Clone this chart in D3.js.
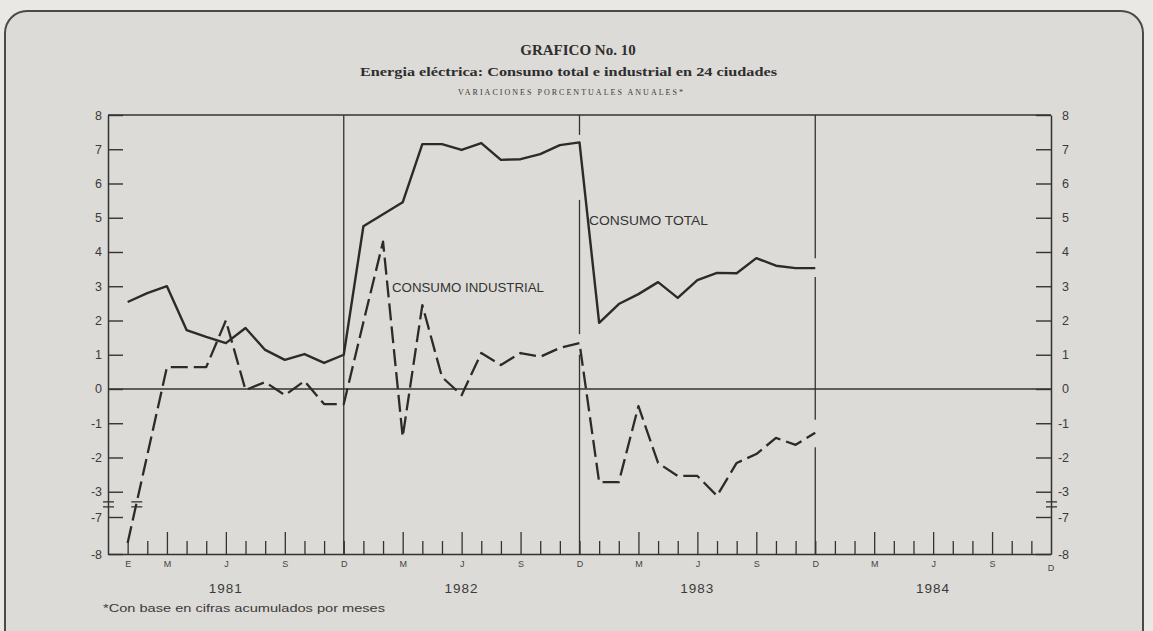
<!DOCTYPE html>
<html>
<head>
<meta charset="utf-8">
<script src="https://cdn.jsdelivr.net/npm/d3@7"></script>
<style>
  body { margin: 0; background: #e9e8e5; }
  svg { display: block; }
</style>
</head>
<body>
<div id="chart"></div>
<script>
// months counted from January 1981 (0) to December 1983 (35)
const total = [2.54, 2.8, 3.0, 1.72, 1.52, 1.34, 1.78, 1.14, 0.85, 1.02, 0.76, 1.0,
  4.75, 5.1, 5.45, 7.15, 7.15, 6.98, 7.18, 6.69, 6.71, 6.86, 7.12, 7.2,
  1.93, 2.48, 2.77, 3.12, 2.66, 3.18, 3.39, 3.38, 3.82, 3.6, 3.53, 3.53]
const industrial = [-7.7, -1.93, 0.64, 0.64, 0.64, 2.0, -0.03, 0.2, -0.18, 0.23, -0.44, -0.44,
  1.95, 4.3, -1.4, 2.45, 0.35, -0.18, 1.05, 0.7, 1.05, 0.94, 1.2, 1.34,
  -2.72, -2.72, -0.5, -2.16, -2.54, -2.54, -3.12, -2.16, -1.9, -1.43, -1.63, -1.28]
const yTicks = [8, 7, 6, 5, 4, 3, 2, 1, 0, -1, -2, -3, -7, -8]
const monthLetters = ['', '', 'M', '', '', 'J', '', '', 'S', '', '', 'D']
const firstLetter = 'E'
const years = ['1981', '1982', '1983', '1984']
// value ranges where the december rules are interrupted
const ruleGaps = [[], [[7.42, 5.52], [1.6, 1.0]], [[3.82, 3.27], [-0.9, -1.7]]]

const width = 1153
const height = 631
const plotLeft = 108, plotRight = 1051, plotTop = 115, plotBottom = 554
const ink = '#333333'
const textInk = '#3a3a3a'
const fontLetter = 'Liberation Sans'

const svg = d3.select('#chart')
  .append('svg')
  .attr('width', width)
  .attr('height', height)

svg.append('rect')
  .attr('x', 5).attr('y', 11)
  .attr('width', 1138).attr('height', 650)
  .attr('rx', 22)
  .attr('fill', '#dddbd7')
  .attr('stroke', '#4a4a4a')
  .attr('stroke-width', 2)

const x = d3.scaleLinear().domain([-1, 47]).range([plotLeft, plotRight])
const y = d3.scaleLinear().domain([-8, -7, -3.3, 8]).range([plotBottom, 517, 502, plotTop])

// titles
svg.append('text')
  .attr('x', 578).attr('y', 55)
  .attr('text-anchor', 'middle')
  .attr('font-family', 'Liberation Serif')
  .attr('font-weight', 'bold')
  .attr('font-size', 15)
  .attr('fill', '#2e2e2e')
  .text('GRAFICO No. 10')

svg.append('text')
  .attr('x', 360).attr('y', 76)
  .attr('textLength', 417)
  .attr('lengthAdjust', 'spacingAndGlyphs')
  .attr('font-family', 'Liberation Serif')
  .attr('font-weight', 'bold')
  .attr('font-size', 12.5)
  .attr('fill', '#2e2e2e')
  .text('Energia eléctrica: Consumo total e industrial en 24 ciudades')

svg.append('text')
  .attr('x', 458).attr('y', 95)
  .attr('textLength', 225)
  .attr('lengthAdjust', 'spacing')
  .attr('font-family', 'Liberation Serif')
  .attr('font-size', 8)
  .attr('fill', textInk)
  .text('VARIACIONES PORCENTUALES ANUALES*')

const g = svg.append('g')
  .attr('stroke-linecap', 'butt')

// frame top and zero line
g.append('line')
  .attr('x1', plotLeft).attr('x2', plotRight)
  .attr('y1', plotTop).attr('y2', plotTop)
  .attr('stroke', ink).attr('stroke-width', 1.5)

g.append('line')
  .attr('x1', plotLeft).attr('x2', plotRight)
  .attr('y1', y(0)).attr('y2', y(0))
  .attr('stroke', ink).attr('stroke-width', 1.3)

// december rules
ruleGaps.forEach((gaps, k) => {
  const xi = x(11 + 12 * k)
  let stops = [8]
  gaps.forEach(gp => { stops.push(gp[0]); stops.push(gp[1]) })
  stops.push(-8)
  for (let i = 0; i < stops.length; i += 2) {
    g.append('line')
      .attr('x1', xi).attr('x2', xi)
      .attr('y1', y(stops[i])).attr('y2', y(stops[i + 1]))
      .attr('stroke', ink).attr('stroke-width', 1.3)
  }
})

// y axes
const leftAxis = d3.axisLeft(y)
  .tickValues(yTicks)
  .tickSizeInner(-15)
  .tickSizeOuter(0)
  .tickPadding(6)
  .tickFormat(d => String(d))

const la = g.append('g')
  .attr('transform', `translate(${plotLeft},0)`)
  .call(leftAxis)
la.select('.domain').attr('stroke', ink).attr('stroke-width', 1.5)
la.selectAll('line').attr('stroke', ink).attr('stroke-width', 1.4)
la.selectAll('text')
  .attr('font-family', fontLetter)
  .attr('font-size', 12.5)
  .attr('fill', textInk)

const rightAxis = d3.axisRight(y)
  .tickValues(yTicks)
  .tickSizeInner(-15)
  .tickSizeOuter(0)
  .tickPadding(6)
  .tickFormat(d => String(d))

const ra = g.append('g')
  .attr('transform', `translate(${plotRight},0)`)
  .call(rightAxis)
ra.select('.domain').attr('stroke', ink).attr('stroke-width', 1.5)
ra.selectAll('line').attr('stroke', ink).attr('stroke-width', 1.4)
ra.selectAll('text')
  .attr('x', 18)
  .attr('text-anchor', 'end')
  .attr('font-family', fontLetter)
  .attr('font-size', 12.5)
  .attr('fill', textInk)

// axis break marks
const yBreak = (y(-3) + y(-7)) / 2
;[plotLeft, plotRight].forEach(ax => {
  [-2.5, 2.5].forEach(off => {
    g.append('line')
      .attr('x1', ax - 5).attr('x2', ax + 6)
      .attr('y1', yBreak + off).attr('y2', yBreak + off)
      .attr('stroke', ink).attr('stroke-width', 1.3)
  })
})

// x axis
const months = d3.range(0, 47)
const xAxis = d3.axisBottom(x)
  .tickValues(months)
  .tickSizeInner(-13)
  .tickSizeOuter(0)
  .tickPadding(7)
  .tickFormat(i => i === 0 ? firstLetter : monthLetters[i % 12])

const xa = g.append('g')
  .attr('transform', `translate(0,${plotBottom})`)
  .call(xAxis)
xa.select('.domain').attr('stroke', ink).attr('stroke-width', 1.5)
xa.selectAll('.tick line')
  .attr('stroke', ink).attr('stroke-width', 1.3)
  .attr('y2', i => (i % 12 === 2 || i % 12 === 5 || i % 12 === 8) ? -22 : -13)
xa.selectAll('.tick text')
  .attr('font-family', fontLetter)
  .attr('font-size', 9)
  .attr('fill', '#444')

// last december label at the right axis
g.append('text')
  .attr('x', x(47)).attr('y', plotBottom + 17)
  .attr('text-anchor', 'middle')
  .attr('font-family', fontLetter)
  .attr('font-size', 9)
  .attr('fill', '#444')
  .text(monthLetters[11])

g.selectAll('text.year')
  .data(years)
  .enter()
  .append('text')
  .attr('class', 'year')
  .attr('x', (d, k) => x(12 * k + 5))
  .attr('y', 593)
  .attr('text-anchor', 'middle')
  .attr('font-family', fontLetter)
  .attr('font-size', 13.5)
  .attr('letter-spacing', 1)
  .attr('fill', textInk)
  .text(d => d)

// series
const line = d3.line()
  .x((d, i) => x(i))
  .y(d => y(d))

g.append('path')
  .datum(total)
  .attr('d', line)
  .attr('fill', 'none')
  .attr('stroke', '#2b2b2b')
  .attr('stroke-width', 2.4)
  .attr('stroke-linejoin', 'round')

g.append('path')
  .datum(industrial)
  .attr('d', line)
  .attr('fill', 'none')
  .attr('stroke', '#2b2b2b')
  .attr('stroke-width', 2.3)
  .attr('stroke-dasharray', '17,6')
  .attr('stroke-linejoin', 'round')

// break mark on the industrial line
const y0 = y(industrial[0]), y1 = y(industrial[1])
const xb = x(0) + (yBreak - y0) / (y1 - y0) * (x(1) - x(0))
;[-2.5, 2.5].forEach(off => {
  g.append('line')
    .attr('x1', xb - 5).attr('x2', xb + 6)
    .attr('y1', yBreak + off).attr('y2', yBreak + off)
    .attr('stroke', ink).attr('stroke-width', 1.3)
})

// series labels
svg.append('text')
  .attr('x', 392).attr('y', 292)
  .attr('textLength', 152)
  .attr('lengthAdjust', 'spacingAndGlyphs')
  .attr('font-family', fontLetter)
  .attr('font-size', 13.5)
  .attr('fill', '#333')
  .text('CONSUMO INDUSTRIAL')

svg.append('text')
  .attr('x', 589).attr('y', 225)
  .attr('textLength', 119)
  .attr('lengthAdjust', 'spacingAndGlyphs')
  .attr('font-family', fontLetter)
  .attr('font-size', 13.5)
  .attr('fill', '#333')
  .text('CONSUMO TOTAL')

// footnote
svg.append('text')
  .attr('x', 103).attr('y', 612)
  .attr('textLength', 282)
  .attr('lengthAdjust', 'spacingAndGlyphs')
  .attr('font-family', fontLetter)
  .attr('font-size', 11)
  .attr('fill', textInk)
  .text('*Con base en cifras acumulados por meses')
</script>
</body>
</html>
